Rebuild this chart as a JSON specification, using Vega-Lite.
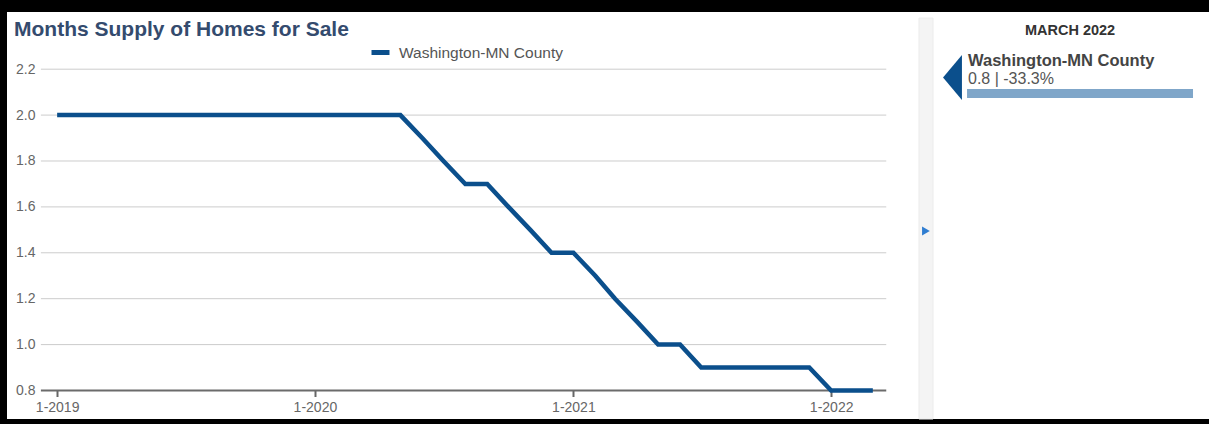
{
  "$schema": "https://vega.github.io/schema/vega-lite/v6.json",
  "width": 1202,
  "height": 407,
  "autosize": {"type": "none"},
  "padding": {"left": 7, "top": 12, "right": 0, "bottom": 5},
  "background": "#000000",
  "config": {"font": "Liberation Sans", "view": {"fill": "#ffffff", "stroke": null}},
  "title": {
    "text": "Months Supply of Homes for Sale",
    "anchor": "start",
    "frame": "group",
    "offset": -28,
    "dx": 7,
    "fontSize": 21,
    "fontWeight": "bold",
    "color": "#344b6e"
  },
  "datasets": {
    "supply": [
      {"date": "2019-01-01", "region": "Washington-MN County", "value": 2.0},
      {"date": "2019-02-01", "region": "Washington-MN County", "value": 2.0},
      {"date": "2019-03-01", "region": "Washington-MN County", "value": 2.0},
      {"date": "2019-04-01", "region": "Washington-MN County", "value": 2.0},
      {"date": "2019-05-01", "region": "Washington-MN County", "value": 2.0},
      {"date": "2019-06-01", "region": "Washington-MN County", "value": 2.0},
      {"date": "2019-07-01", "region": "Washington-MN County", "value": 2.0},
      {"date": "2019-08-01", "region": "Washington-MN County", "value": 2.0},
      {"date": "2019-09-01", "region": "Washington-MN County", "value": 2.0},
      {"date": "2019-10-01", "region": "Washington-MN County", "value": 2.0},
      {"date": "2019-11-01", "region": "Washington-MN County", "value": 2.0},
      {"date": "2019-12-01", "region": "Washington-MN County", "value": 2.0},
      {"date": "2020-01-01", "region": "Washington-MN County", "value": 2.0},
      {"date": "2020-02-01", "region": "Washington-MN County", "value": 2.0},
      {"date": "2020-03-01", "region": "Washington-MN County", "value": 2.0},
      {"date": "2020-04-01", "region": "Washington-MN County", "value": 2.0},
      {"date": "2020-05-01", "region": "Washington-MN County", "value": 2.0},
      {"date": "2020-06-01", "region": "Washington-MN County", "value": 1.9},
      {"date": "2020-07-01", "region": "Washington-MN County", "value": 1.8},
      {"date": "2020-08-01", "region": "Washington-MN County", "value": 1.7},
      {"date": "2020-09-01", "region": "Washington-MN County", "value": 1.7},
      {"date": "2020-10-01", "region": "Washington-MN County", "value": 1.6},
      {"date": "2020-11-01", "region": "Washington-MN County", "value": 1.5},
      {"date": "2020-12-01", "region": "Washington-MN County", "value": 1.4},
      {"date": "2021-01-01", "region": "Washington-MN County", "value": 1.4},
      {"date": "2021-02-01", "region": "Washington-MN County", "value": 1.3},
      {"date": "2021-03-01", "region": "Washington-MN County", "value": 1.2},
      {"date": "2021-04-01", "region": "Washington-MN County", "value": 1.1},
      {"date": "2021-05-01", "region": "Washington-MN County", "value": 1.0},
      {"date": "2021-06-01", "region": "Washington-MN County", "value": 1.0},
      {"date": "2021-07-01", "region": "Washington-MN County", "value": 0.9},
      {"date": "2021-08-01", "region": "Washington-MN County", "value": 0.9},
      {"date": "2021-09-01", "region": "Washington-MN County", "value": 0.9},
      {"date": "2021-10-01", "region": "Washington-MN County", "value": 0.9},
      {"date": "2021-11-01", "region": "Washington-MN County", "value": 0.9},
      {"date": "2021-12-01", "region": "Washington-MN County", "value": 0.9},
      {"date": "2022-01-01", "region": "Washington-MN County", "value": 0.8},
      {"date": "2022-02-01", "region": "Washington-MN County", "value": 0.8},
      {"date": "2022-03-01", "region": "Washington-MN County", "value": 0.8}
    ],
    "grid": [
      {"v": 1.0}, {"v": 1.2}, {"v": 1.4}, {"v": 1.6}, {"v": 1.8}, {"v": 2.0}, {"v": 2.2}
    ],
    "panel": [
      {"period": "MARCH 2022", "region": "Washington-MN County", "value": 0.8, "change": -33.3}
    ]
  },
  "layer": [
    {
      "layer": [
        {
          "data": {"name": "grid"},
          "mark": {"type": "rule", "color": "#cccccc", "strokeWidth": 1},
          "encoding": {
            "y": {"field": "v", "type": "quantitative"},
            "x": {"datum": {"year": 2018, "month": 12, "date": 9, "utc": true}, "type": "temporal"},
            "x2": {"datum": {"year": 2022, "month": 3, "date": 20, "utc": true}}
          }
        },
        {
          "data": {"values": [{}]},
          "mark": {"type": "rule", "color": "#6b6b6b", "strokeWidth": 2},
          "encoding": {
            "y": {"datum": 0.8, "type": "quantitative"},
            "x": {"datum": {"year": 2018, "month": 12, "date": 9, "utc": true}, "type": "temporal"},
            "x2": {"datum": {"year": 2022, "month": 3, "date": 20, "utc": true}}
          }
        },
        {
          "data": {"name": "supply"},
          "mark": {"type": "line", "strokeWidth": 4.5},
          "encoding": {
            "x": {
              "field": "date",
              "type": "temporal",
              "scale": {
                "type": "utc",
                "domain": [
                  {"year": 2018, "month": 10, "date": 22, "utc": true},
                  {"year": 2023, "month": 6, "date": 20, "utc": true}
                ]
              },
              "axis": {
                "orient": "bottom",
                "offset": -28.5,
                "values": [
                  {"year": 2019, "month": 1, "date": 1, "utc": true},
                  {"year": 2020, "month": 1, "date": 1, "utc": true},
                  {"year": 2021, "month": 1, "date": 1, "utc": true},
                  {"year": 2022, "month": 1, "date": 1, "utc": true}
                ],
                "format": "%-m-%Y",
                "domain": false,
                "grid": false,
                "ticks": true,
                "tickSize": 6,
                "tickWidth": 2,
                "tickColor": "#666666",
                "labelPadding": 4,
                "labelFontSize": 14,
                "labelColor": "#666666",
                "labelFlush": false,
                "labelOverlap": false,
                "title": null
              }
            },
            "y": {
              "field": "value",
              "type": "quantitative",
              "scale": {"domain": [0.6758, 2.4492], "nice": false, "zero": false},
              "axis": {
                "orient": "left",
                "offset": -30,
                "values": [0.8, 1.0, 1.2, 1.4, 1.6, 1.8, 2.0, 2.2],
                "format": ".1f",
                "domain": false,
                "ticks": false,
                "tickSize": 0,
                "grid": false,
                "labelPadding": 2,
                "labelFontSize": 14,
                "labelColor": "#666666",
                "labelOverlap": false,
                "title": null
              }
            },
            "color": {
              "field": "region",
              "type": "nominal",
              "scale": {"range": ["#0b4f8c"]},
              "legend": {
                "title": null,
                "orient": "none",
                "legendX": 362,
                "legendY": 29,
                "padding": 0,
                "symbolType": "stroke",
                "symbolStrokeWidth": 5,
                "symbolSize": 324,
                "labelFontSize": 15.5,
                "labelColor": "#555555",
                "labelOffset": 7,
                "labelLimit": 400
              }
            }
          }
        }
      ]
    },
    {
      "data": {"name": "panel"},
      "transform": [
        {"calculate": "format(datum.value, '.1f') + ' | ' + (datum.change < 0 ? '-' : '') + format(abs(datum.change), '.1f') + '%'", "as": "summary"}
      ],
      "layer": [
        {
          "mark": {"type": "rect", "color": "#f4f4f4", "stroke": "#ececec", "strokeWidth": 1},
          "encoding": {
            "x": {"datum": 75.87, "type": "quantitative", "scale": {"domain": [0, 100], "nice": false, "zero": false}, "axis": null},
            "x2": {"datum": 77.04},
            "y": {"datum": 0, "type": "quantitative", "scale": {"domain": [0, 100], "nice": false, "zero": false}, "axis": null},
            "y2": {"datum": 98.5}
          }
        },
        {
          "mark": {"type": "point", "shape": "triangle-right", "filled": true, "opacity": 1, "size": 80, "color": "#2f7dd1"},
          "encoding": {
            "x": {"datum": 76.45, "type": "quantitative"},
            "y": {"datum": 46.2, "type": "quantitative"}
          }
        },
        {
          "mark": {"type": "text", "fontSize": 14.5, "fontWeight": "bold", "color": "#333333", "align": "center", "baseline": "middle"},
          "encoding": {
            "x": {"datum": 88.44, "type": "quantitative"},
            "y": {"datum": 95.33, "type": "quantitative"},
            "text": {"field": "period"}
          }
        },
        {
          "mark": {"type": "point", "shape": "M0.42,-1L-0.42,0L0.42,1Z", "filled": true, "opacity": 1, "size": 2025, "color": "#0b4f8c"},
          "encoding": {
            "x": {"datum": 78.66, "type": "quantitative"},
            "y": {"datum": 83.91, "type": "quantitative"}
          }
        },
        {
          "mark": {"type": "text", "fontSize": 16.5, "fontWeight": "bold", "color": "#444444", "align": "left", "baseline": "middle"},
          "encoding": {
            "x": {"datum": 79.95, "type": "quantitative"},
            "y": {"datum": 87.96, "type": "quantitative"},
            "text": {"field": "region"}
          }
        },
        {
          "mark": {"type": "text", "fontSize": 16, "color": "#555555", "align": "left", "baseline": "middle"},
          "encoding": {
            "x": {"datum": 79.95, "type": "quantitative"},
            "y": {"datum": 83.54, "type": "quantitative"},
            "text": {"field": "summary"}
          }
        },
        {
          "mark": {"type": "rect", "color": "#7fa6c9"},
          "encoding": {
            "x": {"datum": 79.87, "type": "quantitative"},
            "x2": {"datum": 98.67},
            "y": {"datum": 78.87, "type": "quantitative"},
            "y2": {"datum": 81.08}
          }
        }
      ]
    }
  ],
  "resolve": {"scale": {"x": "independent", "y": "independent"}}
}
